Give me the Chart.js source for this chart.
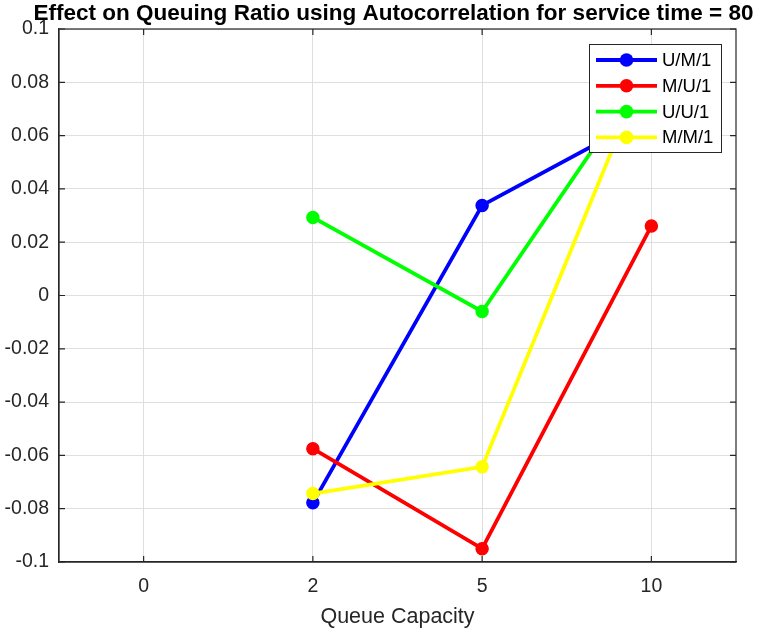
<!DOCTYPE html>
<html>
<head>
<meta charset="utf-8">
<script src="https://cdn.jsdelivr.net/npm/chart.js@4/dist/chart.umd.min.js"></script>
<style>
  html, body { margin: 0; padding: 0; background: #ffffff; }
  #wrap { width: 764px; height: 630px; }
</style>
</head>
<body>
<div id="wrap"><canvas id="c" width="764" height="630"></canvas></div>
<script>
// ---- data ----
const titleText = 'Effect on Queuing Ratio using Autocorrelation for service time = 80';
const xAxisTitle = 'Queue Capacity';
const categories = ['0', '2', '5', '10'];
const seriesNames = ['U/M/1', 'M/U/1', 'U/U/1', 'M/M/1'];
const seriesColors = ['#0000ff', '#ff0000', '#00ff00', '#ffff00'];
const valuesUM1 = [null, -0.0778, 0.0338, 0.0680];
const valuesMU1 = [null, -0.0575, -0.0950, 0.0261];
const valuesUU1 = [null, 0.0293, -0.0060, 0.0870];
const valuesMM1 = [null, -0.0743, -0.0643, 0.0905];
const yMin = -0.1, yMax = 0.1, yStep = 0.02;

const FONT = "'Liberation Sans', Arial, Helvetica, sans-serif";
const AXIS_COLOR = '#262626';

const allValues = [valuesUM1, valuesMU1, valuesUU1, valuesMM1];
const datasets = allValues.map((vals, i) => ({
  label: seriesNames[i],
  data: vals,
  borderColor: seriesColors[i],
  backgroundColor: seriesColors[i],
  pointBackgroundColor: seriesColors[i],
  pointBorderColor: seriesColors[i],
  borderWidth: 3.8,
  pointRadius: 6,
  pointBorderWidth: 1.5,
  pointHoverRadius: 6,
  tension: 0,
  fill: false,
  spanGaps: false,
  order: allValues.length - i
}));

const framePlugin = {
  id: 'frame',
  afterDraw(chart) {
    const ctx = chart.ctx;
    const a = chart.chartArea;
    const xs = chart.scales.x, ys = chart.scales.y;
    ctx.save();
    // box
    ctx.strokeStyle = AXIS_COLOR;
    ctx.lineWidth = 1.2;
    ctx.strokeRect(a.left, a.top, a.right - a.left, a.bottom - a.top);
    // inward ticks
    const tl = 6;
    ctx.beginPath();
    ys.ticks.forEach(t => {
      const y = ys.getPixelForValue(t.value);
      ctx.moveTo(a.left, y); ctx.lineTo(a.left + tl, y);
      ctx.moveTo(a.right, y); ctx.lineTo(a.right - tl, y);
    });
    categories.forEach((c, i) => {
      const x = xs.getPixelForValue(i);
      ctx.moveTo(x, a.bottom); ctx.lineTo(x, a.bottom - tl);
      ctx.moveTo(x, a.top); ctx.lineTo(x, a.top + tl);
    });
    ctx.stroke();

    // title
    ctx.fillStyle = '#000000';
    ctx.textAlign = 'center';
    ctx.textBaseline = 'alphabetic';
    ctx.font = 'bold 20px ' + FONT;
    const w = ctx.measureText(titleText).width;
    const target = 720;
    const fs = 20 * target / w;
    ctx.font = 'bold ' + fs.toFixed(2) + 'px ' + FONT;
    ctx.fillText(titleText, (a.left + a.right) / 2 - 4, a.top - 9.5);

    // legend
    const lw = 132, lh = 108;
    const lx = a.right - 15 - lw, ly = a.top + 15;
    ctx.fillStyle = '#ffffff';
    ctx.fillRect(lx, ly, lw, lh);
    ctx.strokeStyle = AXIS_COLOR;
    ctx.lineWidth = 1;
    ctx.strokeRect(lx + 0.5, ly + 0.5, lw, lh);
    ctx.font = '18.5px ' + FONT;
    ctx.textAlign = 'left';
    ctx.textBaseline = 'middle';
    chart.data.datasets.forEach((ds, i) => {
      const cy = ly + 16 + i * 25.8;
      ctx.strokeStyle = ds.borderColor;
      ctx.lineWidth = 3.8;
      ctx.beginPath();
      ctx.moveTo(lx + 7, cy); ctx.lineTo(lx + 68, cy);
      ctx.stroke();
      ctx.fillStyle = ds.borderColor;
      ctx.beginPath();
      ctx.arc(lx + 37.5, cy, 6.8, 0, Math.PI * 2);
      ctx.fill();
      ctx.fillStyle = '#000000';
      ctx.fillText(ds.label, lx + 73, cy + 1);
    });
    ctx.restore();
  }
};

new Chart(document.getElementById('c'), {
  type: 'line',
  data: { labels: categories, datasets: datasets },
  options: {
    responsive: false,
    animation: false,
    devicePixelRatio: 1,
    layout: { padding: { top: 29, right: 28, left: 0, bottom: 0 } },
    plugins: {
      legend: { display: false },
      title: { display: false },
      tooltip: { enabled: false }
    },
    scales: {
      x: {
        type: 'category',
        offset: true,
        grid: { offset: false, color: '#dfdfdf', lineWidth: 1, drawTicks: false },
        border: { display: true, color: AXIS_COLOR, width: 1.2 },
        ticks: { color: AXIS_COLOR, font: { family: FONT, size: 19.5 }, padding: 13, maxRotation: 0 },
        title: { display: true, text: xAxisTitle, color: AXIS_COLOR, font: { family: FONT, size: 21.5 }, padding: { top: 0, bottom: 0 } },
        afterFit(scale) { scale.height = 68; }
      },
      y: {
        min: yMin, max: yMax,
        grid: { color: '#dfdfdf', lineWidth: 1, drawTicks: false },
        border: { display: true, color: AXIS_COLOR, width: 1.2 },
        ticks: {
          stepSize: yStep,
          color: AXIS_COLOR,
          font: { family: FONT, size: 19.5 },
          padding: 10,
          callback: v => { const r = Math.round(v * 100) / 100; return (r === 0 ? 0 : r).toString(); }
        },
        afterFit(scale) { scale.width = 59; }
      }
    }
  },
  plugins: [framePlugin]
});
</script>
</body>
</html>
